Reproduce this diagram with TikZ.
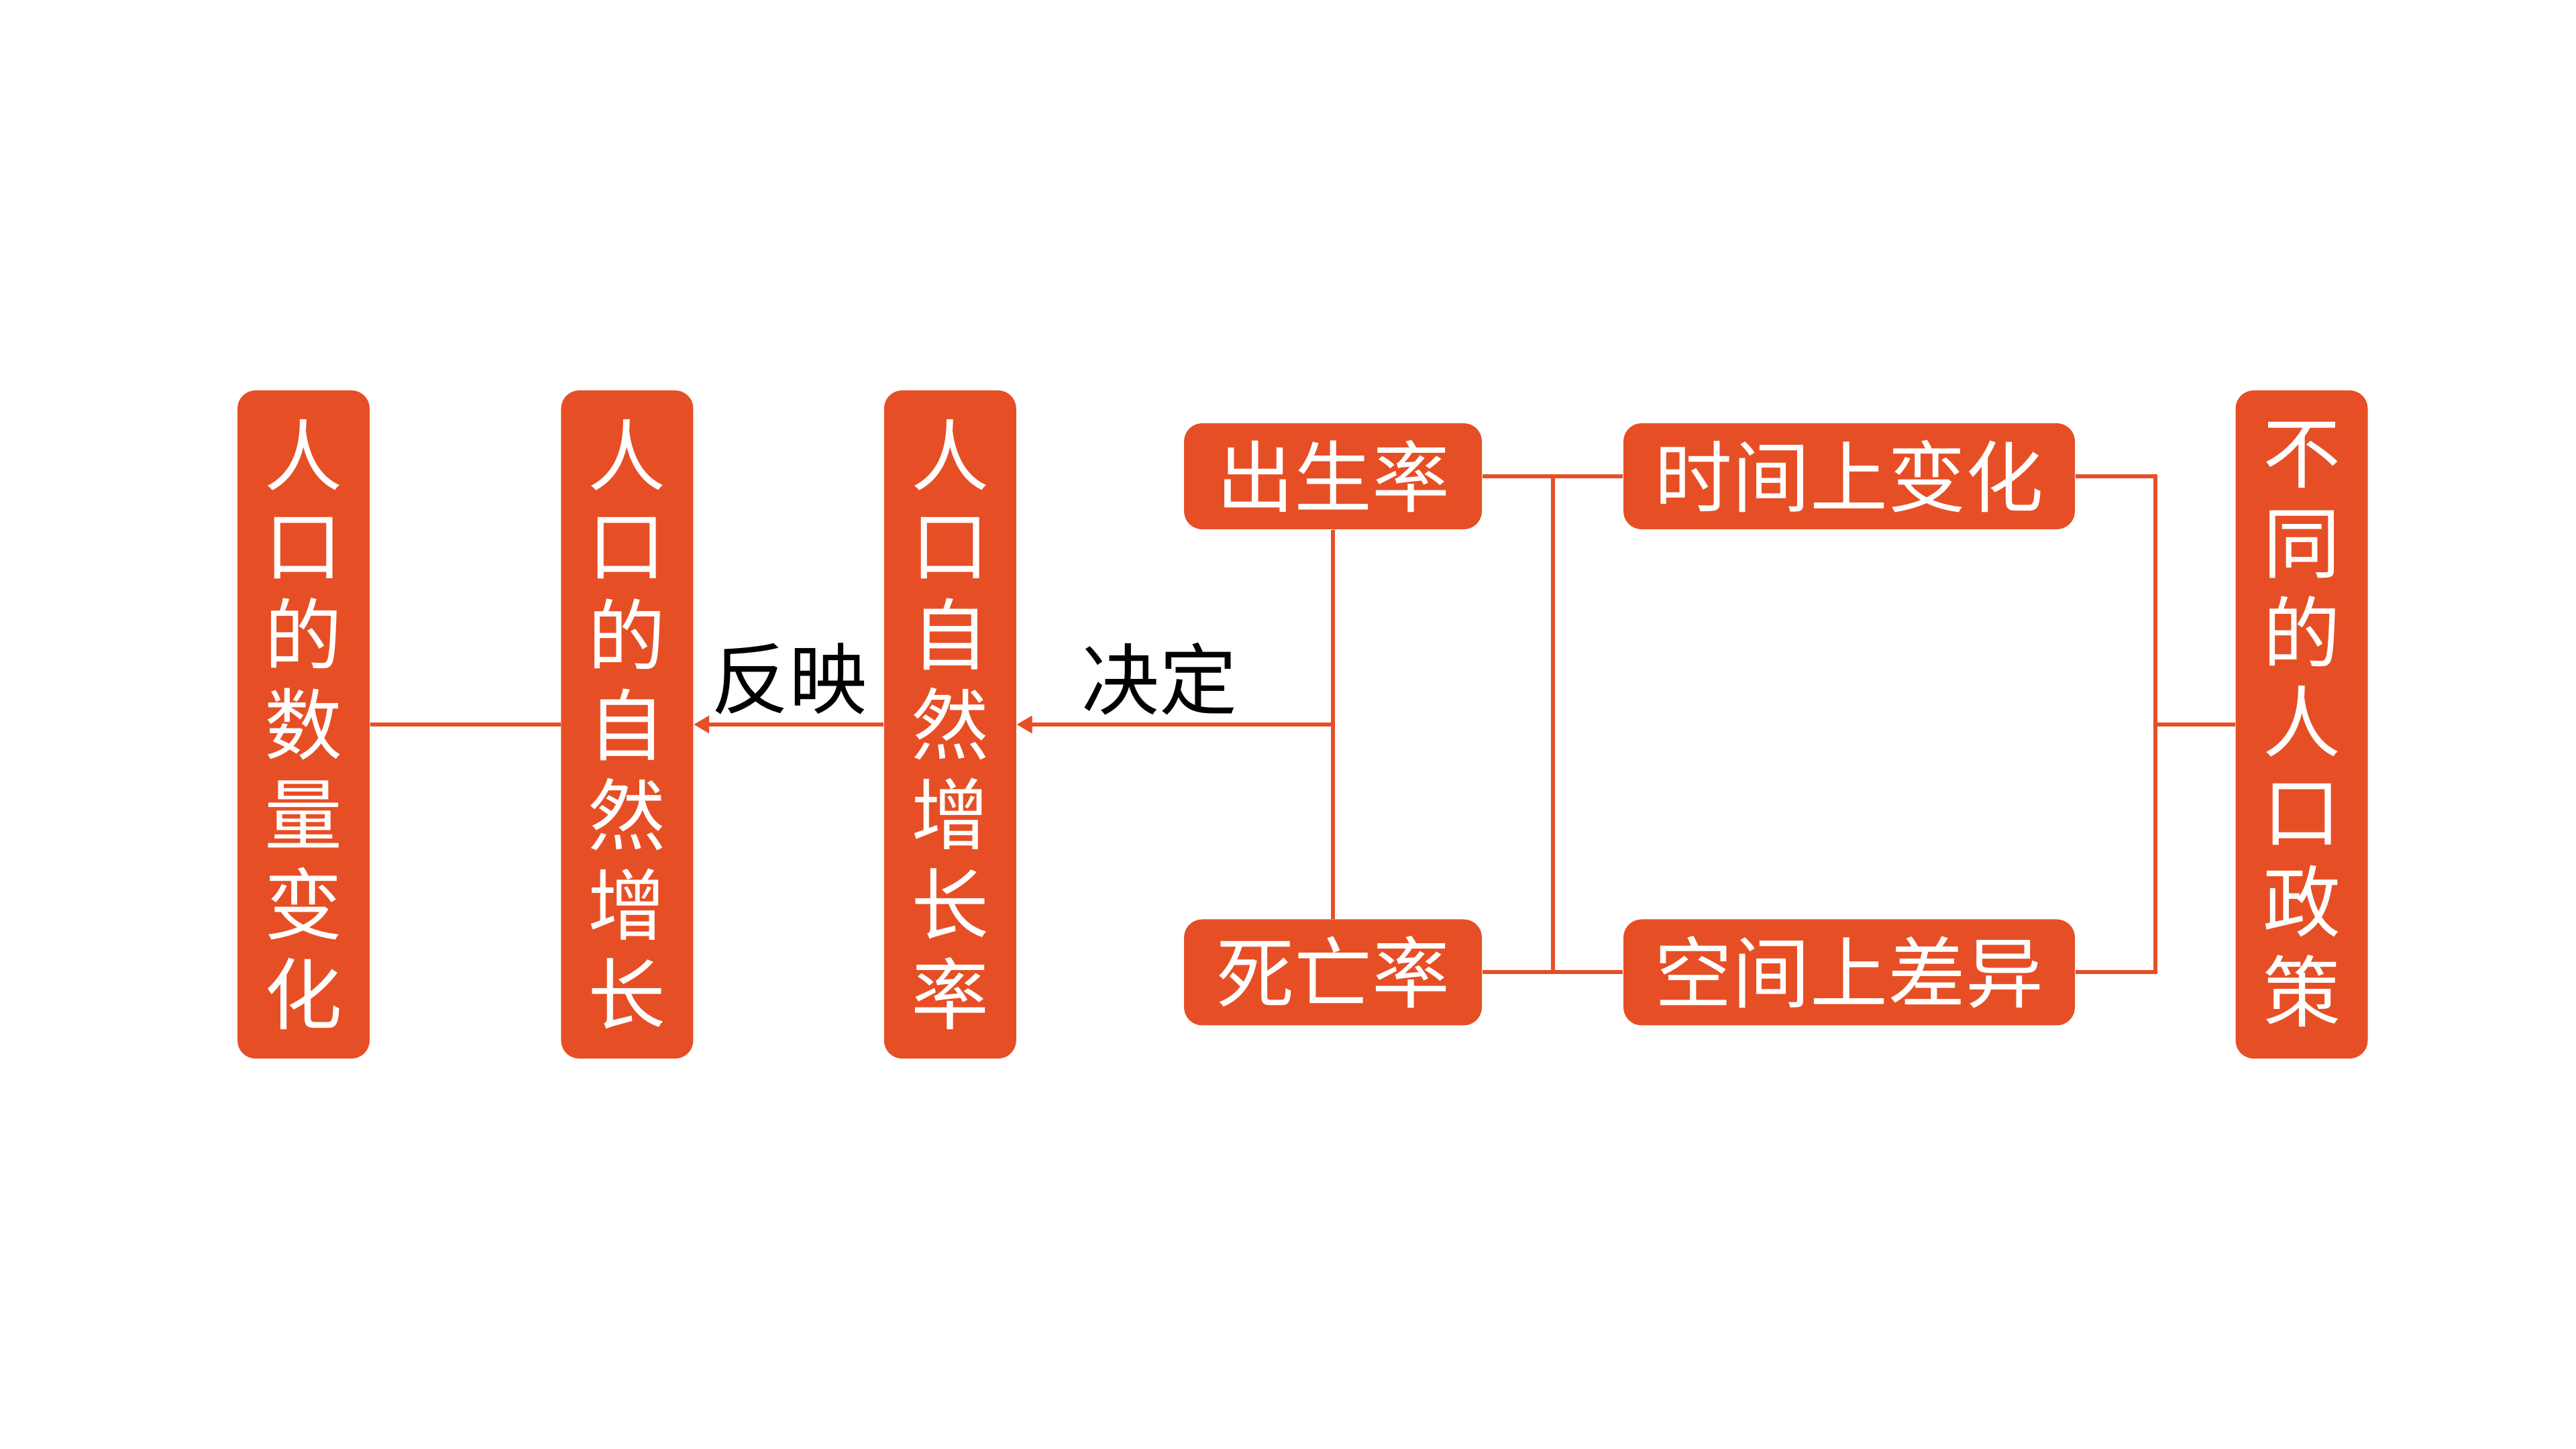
\documentclass[tikz,border=0pt]{standalone}
\usepackage{fontspec}
\newfontfamily\cjk{Noto Sans CJK SC}
\usepackage{xcolor}
\usepackage{tikz}
\usetikzlibrary{arrows.meta,positioning,calc}
\definecolor{Brick}{HTML}{E64F25}

\begin{document}
\begin{tikzpicture}[
  vbox/.style={fill=Brick,rounded corners=0.27cm,text=white,align=center,inner sep=0pt,
    font=\cjk\fontsize{33}{38.1}\selectfont,minimum width=1.97cm,minimum height=9.96cm},
  hbox/.style={fill=Brick,rounded corners=0.27cm,text=white,inner sep=0pt,
    font=\cjk\fontsize{33}{38.1}\selectfont,minimum width=4.44cm,minimum height=1.58cm},
  lab/.style={font=\cjk\fontsize{33}{38.1}\selectfont,inner sep=0pt},
  link/.style={draw=Brick,line width=1.7pt},
  arr/.style={link,-{Triangle[length=2.3mm,width=2.5mm]}}]
\path[fill=white] (0,0) rectangle (38.4,21.6);
\node[vbox] (shuliang) at (4.525,10.8) {人\\口\\的\\数\\量\\变\\化};
\node[vbox,right=2.84cm of shuliang] (zengzhang) {人\\口\\的\\自\\然\\增\\长};
\node[vbox,right=2.83cm of zengzhang] (zengzhanglv) {人\\口\\自\\然\\增\\长\\率};
\node[hbox] (chusheng) at (19.87,14.5) {出生率};
\node[hbox] (siwang) at (19.87,7.105) {死亡率};
\node[hbox,minimum width=6.73cm] (shijian) at (27.565,14.5) {时间上变化};
\node[hbox,minimum width=6.73cm] (kongjian) at (27.565,7.105) {空间上差异};
\node[vbox] (zhengce) at (34.31,10.8) {不\\同\\的\\人\\口\\政\\策};
\node[lab] (fanying) at (11.76,11.48) {反映};
\node[lab] (jueding) at (17.28,11.48) {决定};
\coordinate (jd) at (chusheng |- zengzhanglv);
\coordinate (mid) at ($(chusheng.east)!0.5!(shijian.west)$);
\coordinate (rk) at (32.13,10.8);
\draw[link] (shuliang) -- (zengzhang);
\draw[arr] (zengzhanglv) -- (zengzhang);
\draw[arr] (jd) -- (zengzhanglv);
\draw[link] (chusheng) -- (siwang);
\draw[link] (chusheng) -- (shijian);
\draw[link] (siwang) -- (kongjian);
\draw[link] (mid |- chusheng) -- (mid |- siwang);
\draw[link] (shijian.east) -| (rk) |- (kongjian.east);
\draw[link] (rk) -- (zhengce);
\end{tikzpicture}
\end{document}
